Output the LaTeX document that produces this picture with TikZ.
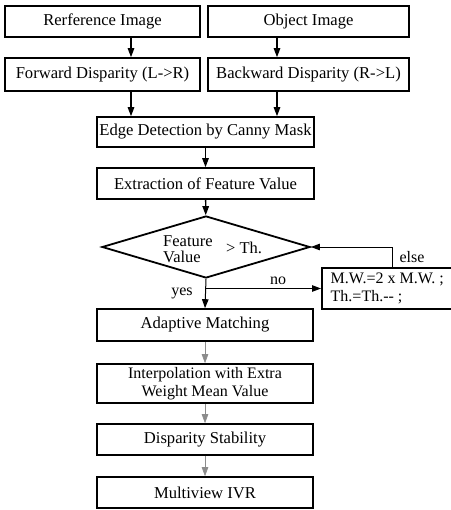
\documentclass[tikz,border=0pt]{standalone}
\usepackage{fontspec}
\setmainfont{Liberation Serif}
\usetikzlibrary{positioning,shapes.geometric,arrows.meta,calc}

\begin{document}
\begin{tikzpicture}
		[x=1pt, y=-1pt,
		box/.style={draw, line width=1.6pt, fill=white, inner sep=0pt,
			font=\fontsize{16.6}{19}\selectfont, align=center},
		decision/.style={draw, diamond, line width=1.8pt, inner sep=0pt,
			minimum width=208pt, minimum height=62pt},
		arr/.style={-{Triangle[length=9pt,width=6.5pt]}, line width=1.3pt},
		thinarr/.style={-{Triangle[length=9pt,width=6.5pt]}, line width=0.6pt, draw=black!45},
		lbl/.style={font=\fontsize{16}{16}\selectfont}]
		\useasboundingbox (0,0) rectangle (450,510);

		% inputs
		\node[box, minimum width=195pt, minimum height=31pt] (ref) at (102.5,21.5) {Rerference Image};
		\node[box, minimum width=201pt, minimum height=31pt] (obj) at (308.5,21.5) {Object Image};
		\node[box, minimum width=195pt, minimum height=33pt] (fwd) at (102.5,74.5) {Forward Disparity (L->R)};
		\node[box, minimum width=201pt, minimum height=33pt] (bwd) at (308.5,74.5) {Backward Disparity (R->L)};

		% main column
		\node[box, minimum width=217pt, minimum height=30pt] (edge) at (205.5,132) {Edge Detection by Canny Mask};
		\node[box, minimum width=217pt, minimum height=31pt] (extr) at (205.5,183.5) {Extraction of Feature Value};
		\node[decision] (dia) at (206,247) {};
		\node[anchor=west, align=left, inner sep=0pt, font=\fontsize{16.5}{16}\selectfont] (feat) at (163,249.5) {Feature\\Value};
		\node[anchor=west, inner sep=0pt, font=\fontsize{16.5}{17}\selectfont] (gt) at (226,248) {> Th.};
		\node[box, minimum width=131pt, minimum height=41pt, anchor=west, align=left,
			font=\fontsize{16}{18}\selectfont, inner xsep=7pt] (mw) at (321,288.5)
			{M.W.=2 x M.W. ;\\Th.=Th.-{}- ;};
		\node[box, minimum width=216pt, minimum height=32pt] (adapt) at (205,325) {Adaptive Matching};
		\node[box, minimum width=216pt, minimum height=39pt, font=\fontsize{16}{18}\selectfont] (interp) at (205,383.5)
			{Interpolation with Extra\\Weight Mean Value};
		\node[box, minimum width=216pt, minimum height=31pt] (stab) at (205,439.5) {Disparity Stability};
		\node[box, minimum width=216pt, minimum height=31pt] (multi) at (205,492.5) {Multiview IVR};

		% connectors
		\coordinate (lcol) at ([xshift=28.5pt]ref.south);
		\coordinate (rcol) at ([xshift=-31.5pt]obj.south);
		\draw[arr] (lcol) -- (lcol |- fwd.north);
		\draw[arr] (rcol) -- (rcol |- bwd.north);
		\draw[arr] (lcol |- fwd.south) -- (lcol |- edge.north);
		\draw[arr] (rcol |- bwd.south) -- (rcol |- edge.north);
		\draw[arr] (edge) -- (extr);
		\draw[arr] (extr) -- (dia);
		\draw[arr, line width=1pt] (dia.south) -- (adapt.north);
		\coordinate (split) at (dia.south |- mw.west);
		\draw[arr, line width=1pt] (split) -- (mw.west);
		\draw[arr, line width=1pt] ([xshift=5pt]mw.north) |- (dia.east);
		\draw[thinarr] (adapt) -- (interp);
		\draw[thinarr] (interp) -- (stab);
		\draw[thinarr] (stab) -- (multi);

		\node[lbl] at (278,281) {no};
		\node[lbl] at (182,293) {yes};
		\node[lbl] at (412,257) {else};
	\end{tikzpicture}
\end{document}
